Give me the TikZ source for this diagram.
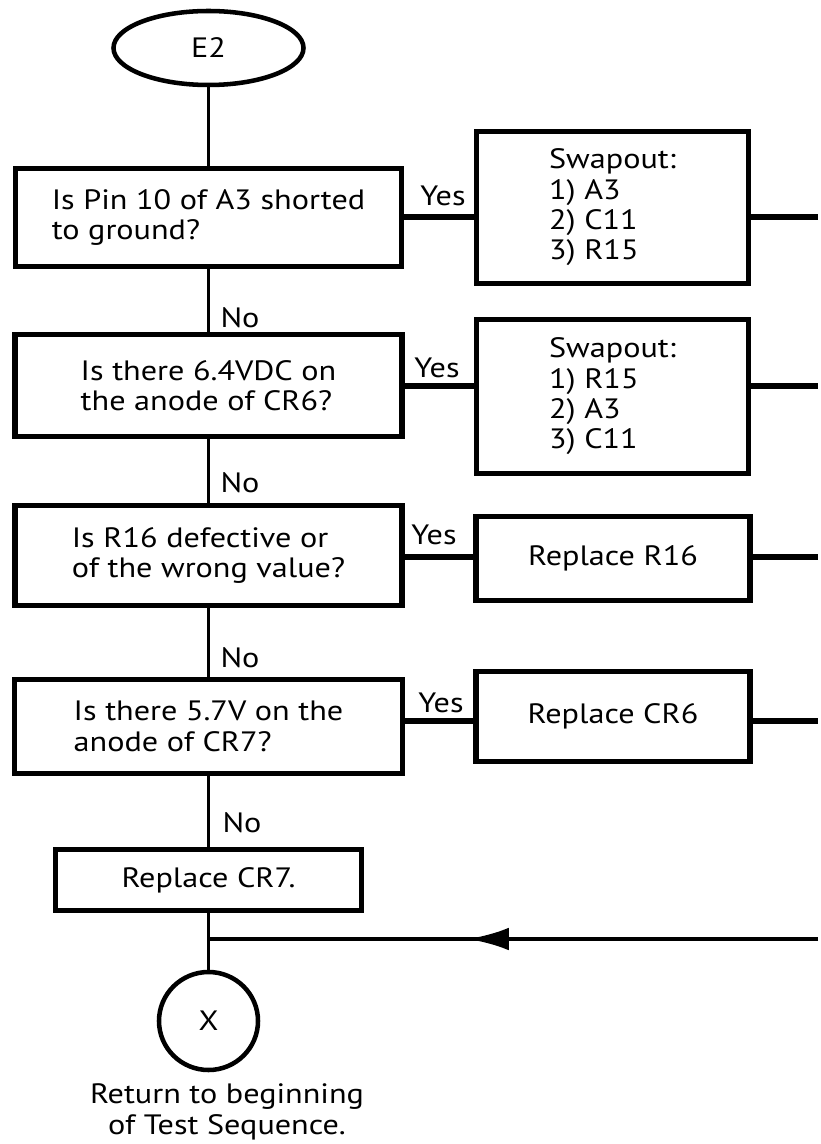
\documentclass[tikz,border=0pt]{standalone}
\usepackage{fontspec}
\setmainfont{PT Sans}[FakeStretch=1.15]
\usetikzlibrary{shapes.geometric,arrows.meta,decorations.markings}
\def\pxu{0.75pt}
\begin{document}
\begin{tikzpicture}[x=0.75pt,y=-0.75pt,
  font=\fontsize{21}{22.8}\selectfont,
  box/.style={draw, line width=4.4pt, rectangle, inner sep=0pt, align=left},
  term/.style={draw, line width=3.4pt, ellipse, inner sep=0pt},
  conn/.style={line width=2.5pt},
  yconn/.style={line width=4.2pt},
  lbl/.style={inner sep=0pt}]
\fill[white] (0,0) rectangle (818,1144);
% left column
\node[term, minimum width=190*\pxu, minimum height=74*\pxu] (e2) at (208.5,48) {E2};
\node[box, minimum width=386*\pxu, minimum height=98*\pxu] (q1) at (208.5,217.5) {Is Pin 10 of A3 shorted\\to ground?};
\node[box, minimum width=387*\pxu, minimum height=102*\pxu] (q2) at (208.5,385.5) {Is there 6.4VDC on\\the anode of CR6?};
\node[box, minimum width=387*\pxu, minimum height=100*\pxu] (q3) at (208.5,555.5) {Is R16 defective or\\of the wrong value?};
\node[box, minimum width=388*\pxu, minimum height=94*\pxu] (q4) at (208.5,726.5) {Is there 5.7V on the\\anode of CR7?};
\node[box, minimum width=306*\pxu, minimum height=61*\pxu] (r7) at (208.5,880) {Replace CR7.};
\node[term, minimum width=99*\pxu, minimum height=98*\pxu] (xx) at (208.5,1021) {X};
\node[lbl, align=center] (ret) at (227,1112) {Return to beginning\\of Test Sequence.};
% right column
\node[box, minimum width=272*\pxu, minimum height=152*\pxu] (s1) at (612.5,207.5) {Swapout:\\1) A3\\2) C11\\3) R15};
\node[box, minimum width=272*\pxu, minimum height=154*\pxu] (s2) at (612.5,396.5) {Swapout:\\1) R15\\2) A3\\3) C11};
\node[box, minimum width=274*\pxu, minimum height=84*\pxu] (r16) at (613,558.5) {Replace R16};
\node[box, minimum width=274*\pxu, minimum height=90*\pxu] (r6) at (613,716.5) {Replace CR6};
% edge coordinates
\coordinate (o1) at (818,217);
\coordinate (o2) at (818,386);
\coordinate (o3) at (818,557);
\coordinate (o4) at (818,721);
\coordinate (rin) at (818,939);
\coordinate (jn) at (208.5,939);
% vertical connectors
\draw[conn] (e2.south) -- (q1.north);
\draw[conn] (q1.south) -- (q2.north);
\draw[conn] (q2.south) -- (q3.north);
\draw[conn] (q3.south) -- (q4.north);
\draw[conn] (q4.south) -- (r7.north);
\draw[conn] (r7.south) -- (xx.north);
% yes connectors
\draw[yconn] (q1.east |- o1) -- (s1.west |- o1);
\draw[yconn] (s1.east |- o1) -- (o1);
\draw[yconn] (q2.east |- o2) -- (s2.west |- o2);
\draw[yconn] (s2.east |- o2) -- (o2);
\draw[yconn] (q3.east |- o3) -- (r16.west |- o3);
\draw[yconn] (r16.east |- o3) -- (o3);
\draw[yconn] (q4.east |- o4) -- (r6.west |- o4);
\draw[yconn] (r6.east |- o4) -- (o4);
% return line
\draw[line width=3.4pt, postaction={decorate, decoration={markings,
   mark=at position 0.575 with {\arrow{Latex[length=31pt,width=17pt]}}}}] (rin) -- (jn);
% labels
\node[lbl] (y1) at (443,196) {Yes};
\node[lbl] (y2) at (437,368) {Yes};
\node[lbl] (y3) at (434,535) {Yes};
\node[lbl] (y4) at (441,703) {Yes};
\node[lbl] (n1) at (240,318) {No};
\node[lbl] (n2) at (240,483) {No};
\node[lbl] (n3) at (240,658) {No};
\node[lbl] (n4) at (242,823) {No};
\end{tikzpicture}
\end{document}
